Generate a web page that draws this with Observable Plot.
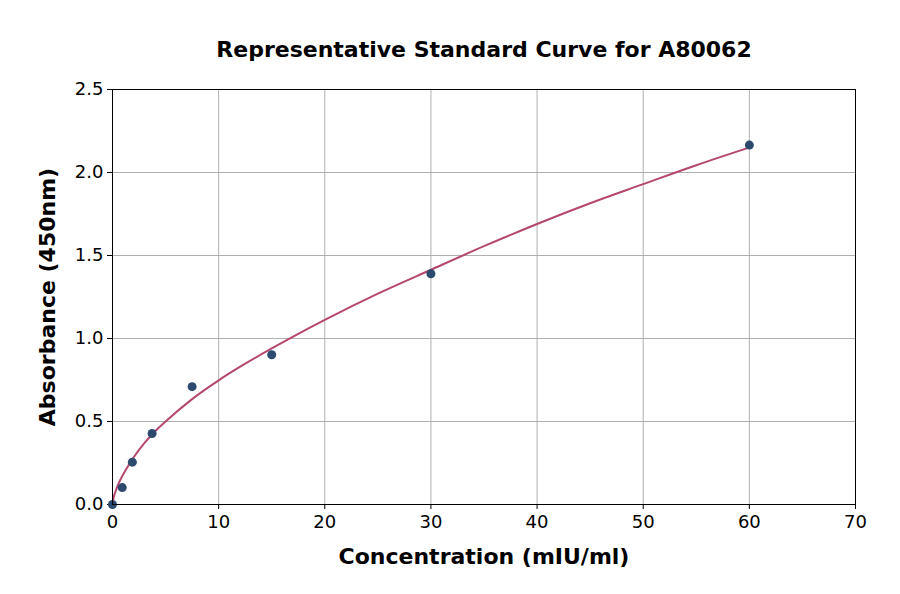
<!DOCTYPE html>
<html>
<head>
<meta charset="utf-8">
<script src="https://cdn.jsdelivr.net/npm/d3@7"></script>
<script src="https://cdn.jsdelivr.net/npm/@observablehq/plot@0.6"></script>
<style>
  html, body { margin: 0; padding: 0; background: #fff; }
  #chart svg { display: block; }
</style>
</head>
<body>
<div id="chart"></div>
<script>
// Measured standards
const concentrations = [0, 0.92, 1.87, 3.73, 7.5, 15, 30, 60];
const absorbances   = [0.0, 0.102, 0.255, 0.428, 0.71, 0.902, 1.39, 2.165];

// Fitted curve
const curveX = [0, 0.1, 0.25, 0.5, 1, 1.5, 2, 3, 4, 5, 7.5, 10, 12.5, 15, 17.5, 20, 25, 30, 35, 40, 45, 50, 55, 60];
const curveY = [0, 0.04, 0.072, 0.115, 0.18, 0.235, 0.285, 0.37, 0.44, 0.50, 0.635, 0.748, 0.848, 0.94, 1.028, 1.112, 1.27, 1.414, 1.556, 1.69, 1.815, 1.93, 2.044, 2.15];

const xTicks = [0, 10, 20, 30, 40, 50, 60, 70];
const yTicks = [0, 0.5, 1.0, 1.5, 2.0, 2.5];

const titleText = "Representative Standard Curve for A80062";
const xLabel = "Concentration (mIU/ml)";
const yLabel = "Absorbance (450nm)";

const points = concentrations.map((c, i) => ({x: c, y: absorbances[i]}));
const curve = curveX.map((c, i) => ({x: c, y: curveY[i]}));

const font = "DejaVu Sans, sans-serif";

const chart = Plot.plot({
  width: 900,
  height: 594,
  marginLeft: 112,
  marginRight: 45,
  marginTop: 89,
  marginBottom: 90,
  style: {fontFamily: font, background: "#fff", color: "#000"},
  x: {domain: [0, 70]},
  y: {domain: [0, 2.5]},
  marks: [
    Plot.gridX(xTicks, {stroke: "#b0b0b0", strokeOpacity: 1, strokeWidth: 1}),
    Plot.gridY(yTicks, {stroke: "#b0b0b0", strokeOpacity: 1, strokeWidth: 1}),
    Plot.axisX(xTicks, {tickSize: 5, tickPadding: 6, fontSize: 18, label: null, tickFormat: d => d3.format("d")(d)}),
    Plot.axisY(yTicks, {tickSize: 5, tickPadding: 4, fontSize: 18, label: null, tickFormat: d => d.toFixed(1)}),
    Plot.line(curve, {x: "x", y: "y", stroke: "#b5476e", strokeWidth: 2, curve: "monotone-x"}),
    Plot.dot(points, {x: "x", y: "y", r: 4.5, fill: "#2b4a6e", stroke: "none"}),
    Plot.frame({stroke: "#000", strokeWidth: 1}),
    Plot.text([titleText], {frameAnchor: "top", lineAnchor: "middle", dy: -40, fontSize: 22, fontWeight: "bold", text: d => d}),
    Plot.text([xLabel], {frameAnchor: "bottom", lineAnchor: "middle", dy: 52, fontSize: 22, fontWeight: "bold", text: d => d}),
    Plot.text([yLabel], {frameAnchor: "left", textAnchor: "middle", lineAnchor: "middle", dx: -65, rotate: -90, fontSize: 22, fontWeight: "bold", text: d => d})
  ]
});
document.getElementById("chart").append(chart);
</script>
</body>
</html>
